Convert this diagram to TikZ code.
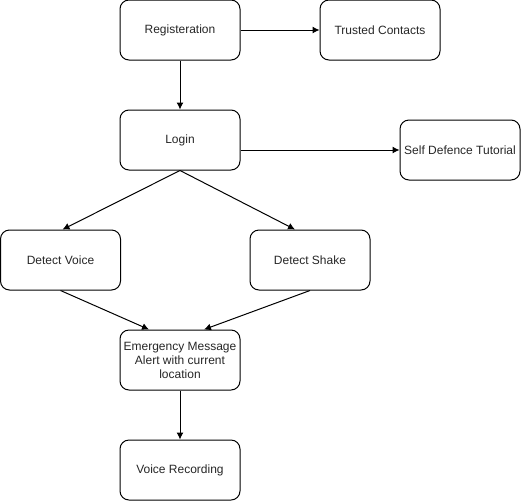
\documentclass[tikz,border=0pt]{standalone}
\usepackage{fontspec}
\setmainfont{Liberation Sans}
\usetikzlibrary{arrows.meta,calc}
\begin{document}
\begin{tikzpicture}[x=1pt,y=-1pt,
  box/.style={draw=black, line width=1pt, rounded corners=9pt, minimum width=120pt, minimum height=60pt,
    inner sep=1pt, align=center, font=\fontsize{12}{14}\selectfont, text=black!85},
  arr/.style={draw=black, line width=1pt, -{Latex[length=7pt,width=7pt]}}]
\useasboundingbox (0,0) rectangle (521,501);
\node[box] (reg) at (180,30) {Registeration};
\node[box] (trust) at (380,30) {Trusted Contacts};
\node[box] (login) at (180,140) {Login};
\node[box] (self) at (460,150) {Self Defence Tutorial};
\node[box] (voice) at (60.5,260) {Detect Voice};
\node[box] (shake) at (310,260) {Detect Shake};
\node[box] (emerg) at (180,360) {Emergency Message\\Alert with current\\location};
\node[box] (rec) at (180,470) {Voice Recording};
\draw[arr] (reg.east) -- (trust.west);
\draw[arr] (reg.south) -- (login.north);
\draw[arr] (login.east |- self.west) -- (self.west);
\draw[arr] (login.south) -- ($(voice.north)+(2,0)$);
\draw[arr] (login.south) -- ($(shake.north)+(-15,0)$);
\draw[arr] (voice.south) -- ($(emerg.north)+(-31,0)$);
\draw[arr] (shake.south) -- ($(emerg.north)+(24,0)$);
\draw[arr] (emerg.south) -- (rec.north);
\end{tikzpicture}
\end{document}
